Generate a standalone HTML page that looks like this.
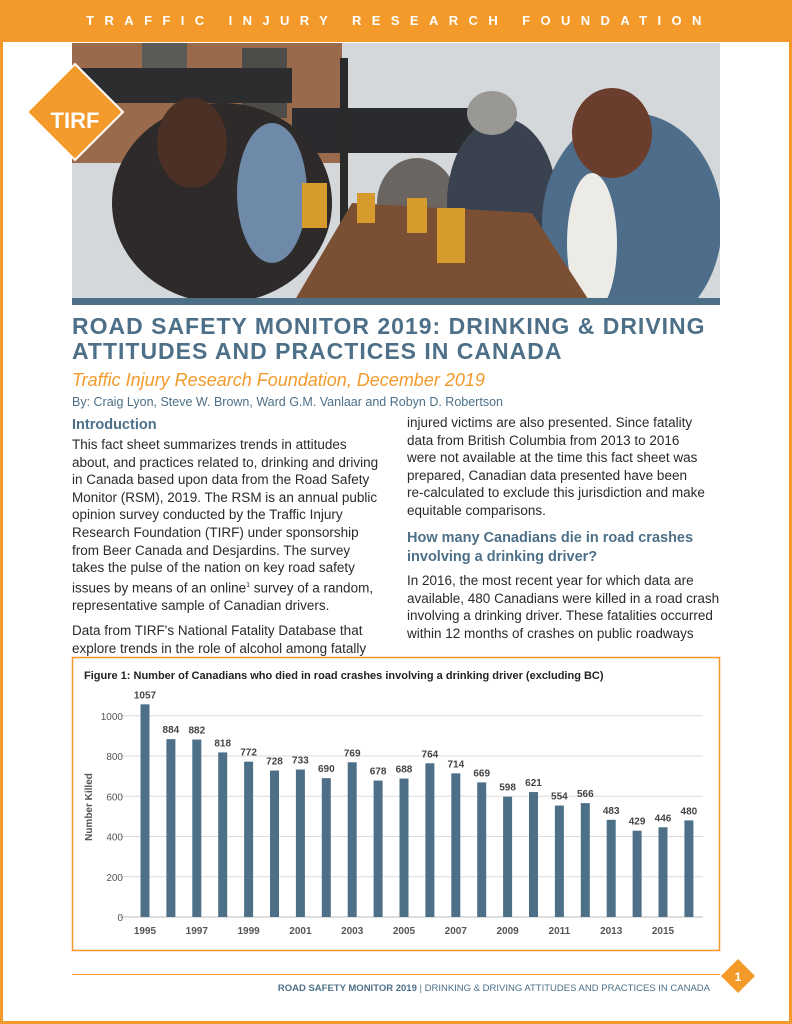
<!DOCTYPE html>
<html><head><meta charset="utf-8"><style>
*{margin:0;padding:0;box-sizing:border-box}
body{width:792px;height:1024px;position:relative;background:#fff;font-family:"Liberation Sans",sans-serif;overflow:hidden}
.frame{position:absolute;left:0;top:0;width:792px;height:1024px;border:3px solid #f39a2b;pointer-events:none}
.hdr{position:absolute;left:0;top:0;width:792px;height:42px;background:#f39a2b;color:#fff;font-size:13px;letter-spacing:10.4px;text-align:center;line-height:42px;font-weight:bold;padding-left:6px}
.photo{position:absolute;left:72px;top:43px;width:648px;height:262px;overflow:hidden;background:#cfd3d6}
.t{position:absolute;color:#2a2a2a;font-size:13.5px;line-height:17.6px;letter-spacing:0;white-space:nowrap}
h1{position:absolute;left:72px;top:314px;width:700px;color:#4d7088;font-size:23px;line-height:25px;font-weight:bold;letter-spacing:1px}
.sub{position:absolute;left:72px;top:370px;color:#f39a2b;font-size:18px;font-style:italic}
.by{position:absolute;left:72px;top:395px;color:#4d7088;font-size:12.5px}
h2{position:absolute;color:#4d7088;font-size:14.5px;font-weight:bold;line-height:19px}
</style></head><body>
<div class="hdr">TRAFFIC INJURY RESEARCH FOUNDATION</div>
<div class="photo">
<svg width="648" height="262">
<rect width="648" height="262" fill="#d5d8da"/>
<rect x="0" y="0" width="270" height="120" fill="#9a6a4c"/>
<rect x="70" y="0" width="45" height="30" fill="#5c5a55"/>
<rect x="170" y="5" width="45" height="70" fill="#4e4c48"/>
<rect x="0" y="25" width="220" height="35" fill="#2d2d2f"/>
<rect x="220" y="65" width="200" height="45" fill="#2a2b2e"/>
<rect x="268" y="15" width="8" height="210" fill="#2a2a2a"/>
<ellipse cx="150" cy="160" rx="110" ry="100" fill="#2e2a2a"/>
<ellipse cx="120" cy="100" rx="35" ry="45" fill="#4a3025"/>
<ellipse cx="200" cy="150" rx="35" ry="70" fill="#6e8aa8"/>
<ellipse cx="345" cy="160" rx="40" ry="45" fill="#6a6560"/>
<ellipse cx="430" cy="160" rx="55" ry="85" fill="#3a4250"/>
<ellipse cx="420" cy="70" rx="25" ry="22" fill="#9a9894"/>
<ellipse cx="560" cy="180" rx="90" ry="110" fill="#4e6d8a"/>
<ellipse cx="540" cy="90" rx="40" ry="45" fill="#6b3d2c"/>
<ellipse cx="520" cy="200" rx="25" ry="70" fill="#ecebe6"/>
<polygon points="220,262 280,160 460,170 520,262" fill="#7a4f34"/>
<rect x="230" y="140" width="25" height="45" fill="#d79a2c"/>
<rect x="285" y="150" width="18" height="30" fill="#d79a2c"/>
<rect x="335" y="155" width="20" height="35" fill="#d79a2c"/>
<rect x="365" y="165" width="28" height="55" fill="#d79a2c"/>
<rect x="0" y="255" width="648" height="7" fill="#4d7088"/>
</svg></div>
<svg style="position:absolute;left:25px;top:62px" width="100" height="100">
<polygon points="50,2 98,50 50,98 2,50" fill="#f39a2b" stroke="#fff" stroke-width="2"/>
<text x="50" y="66" fill="#fff" font-size="22" font-weight="bold" text-anchor="middle" font-family="Liberation Sans">TIRF</text>
</svg>
<h1>ROAD SAFETY MONITOR 2019: DRINKING &amp; DRIVING<br>ATTITUDES AND PRACTICES IN CANADA</h1>
<div class="sub">Traffic Injury Research Foundation, December 2019</div>
<div class="by">By: Craig Lyon, Steve W. Brown, Ward G.M. Vanlaar and Robyn D. Robertson</div>
<h2 style="left:72px;top:416px">Introduction</h2>
<div class="t" style="left:72px;top:436px;width:320px">This fact sheet summarizes trends in attitudes<br>about, and practices related to, drinking and driving<br>in Canada based upon data from the Road Safety<br>Monitor (RSM), 2019. The RSM is an annual public<br>opinion survey conducted by the Traffic Injury<br>Research Foundation (TIRF) under sponsorship<br>from Beer Canada and Desjardins. The survey<br>takes the pulse of the nation on key road safety<br>issues by means of an online<sup style="font-size:7px">1</sup> survey of a random,<br>representative sample of Canadian drivers.<div style="height:8px"></div>Data from TIRF's National Fatality Database that<br>explore trends in the role of alcohol among fatally</div>
<div class="t" style="left:407px;top:414px;width:320px">injured victims are also presented. Since fatality<br>data from British Columbia from 2013 to 2016<br>were not available at the time this fact sheet was<br>prepared, Canadian data presented have been<br>re-calculated to exclude this jurisdiction and make<br>equitable comparisons.</div>
<h2 style="left:407px;top:529px;width:315px">How many Canadians die in road crashes<br>involving a drinking driver?</h2>
<div class="t" style="left:407px;top:572px;width:320px">In 2016, the most recent year for which data are<br>available, 480 Canadians were killed in a road crash<br>involving a drinking driver. These fatalities occurred<br>within 12 months of crashes on public roadways</div>
<svg id="chart" style="position:absolute;left:0;top:0" width="792" height="1024"></svg>
<div style="position:absolute;left:72px;top:974px;width:648px;height:1px;background:#f39a2b"></div>
<svg style="position:absolute;left:720px;top:958px" width="36" height="36"><polygon points="18,1 35,18 18,35 1,18" fill="#f39a2b"/><text x="18" y="23" fill="#fff" font-size="12" font-weight="bold" text-anchor="middle" font-family="Liberation Sans">1</text></svg>
<div style="position:absolute;right:82px;top:983px;font-size:9.5px;color:#4d7088"><b>ROAD SAFETY MONITOR 2019</b> | DRINKING &amp; DRIVING ATTITUDES AND PRACTICES IN CANADA</div>
<div class="frame"></div>
<script>
const years=[1995,1996,1997,1998,1999,2000,2001,2002,2003,2004,2005,2006,2007,2008,2009,2010,2011,2012,2013,2014,2015,2016];
const killed=[1057,884,882,818,772,728,733,690,769,678,688,764,714,669,598,621,554,566,483,429,446,480];
const yTicks=[0,200,400,600,800,1000];
const xLabels=[1995,1997,1999,2001,2003,2005,2007,2009,2011,2013,2015];
const svg=document.getElementById('chart');
const NS='http://www.w3.org/2000/svg';
const x0=145,step=25.9,yb=917,yk=0.2012;
const X=i=>x0+i*step, Y=v=>yb-v*yk;
function mk(t,a){const e=document.createElementNS(NS,t);for(const k in a)e.setAttribute(k,a[k]);svg.appendChild(e);return e;}
let box=mk('rect',{x:72.5,y:657.5,width:647,height:293,fill:'#fff',stroke:'#f39a2b','stroke-width':1.5});


let ti=mk('text',{x:84,y:679,'font-size':11,'font-weight':'bold',fill:'#222'});ti.textContent='Figure 1: Number of Canadians who died in road crashes involving a drinking driver (excluding BC)';


yTicks.forEach(v=>{
 const g=mk('line',{x1:120,x2:703,y1:Y(v),y2:Y(v),stroke:v?'#dcdcdc':'#bbb','stroke-width':1});
 
 
 const t=mk('text',{x:123,y:Y(v)+4,'font-size':10,fill:'#555','text-anchor':'end'});t.textContent=v;
 
 
});
let yt=mk('text',{x:92,y:807,'font-size':10,'font-weight':'bold',fill:'#555','text-anchor':'middle',transform:'rotate(-90 92 807)'});yt.textContent='Number Killed';


years.forEach((yr,i)=>{
 const b=mk('rect',{x:X(i)-4.5,y:Y(killed[i]),width:9,height:killed[i]*yk,fill:'#4d7088'});
 
 
 const l=mk('text',{x:X(i),y:Y(killed[i])-6,'font-size':10,'font-weight':'bold',fill:'#444','text-anchor':'middle'});l.textContent=killed[i];
 
 
 if(xLabels.includes(yr)){const t=mk('text',{x:X(i),y:934,'font-size':10,'font-weight':'bold',fill:'#555','text-anchor':'middle'});t.textContent=yr;
 
 }
});
</script>
</body></html>
